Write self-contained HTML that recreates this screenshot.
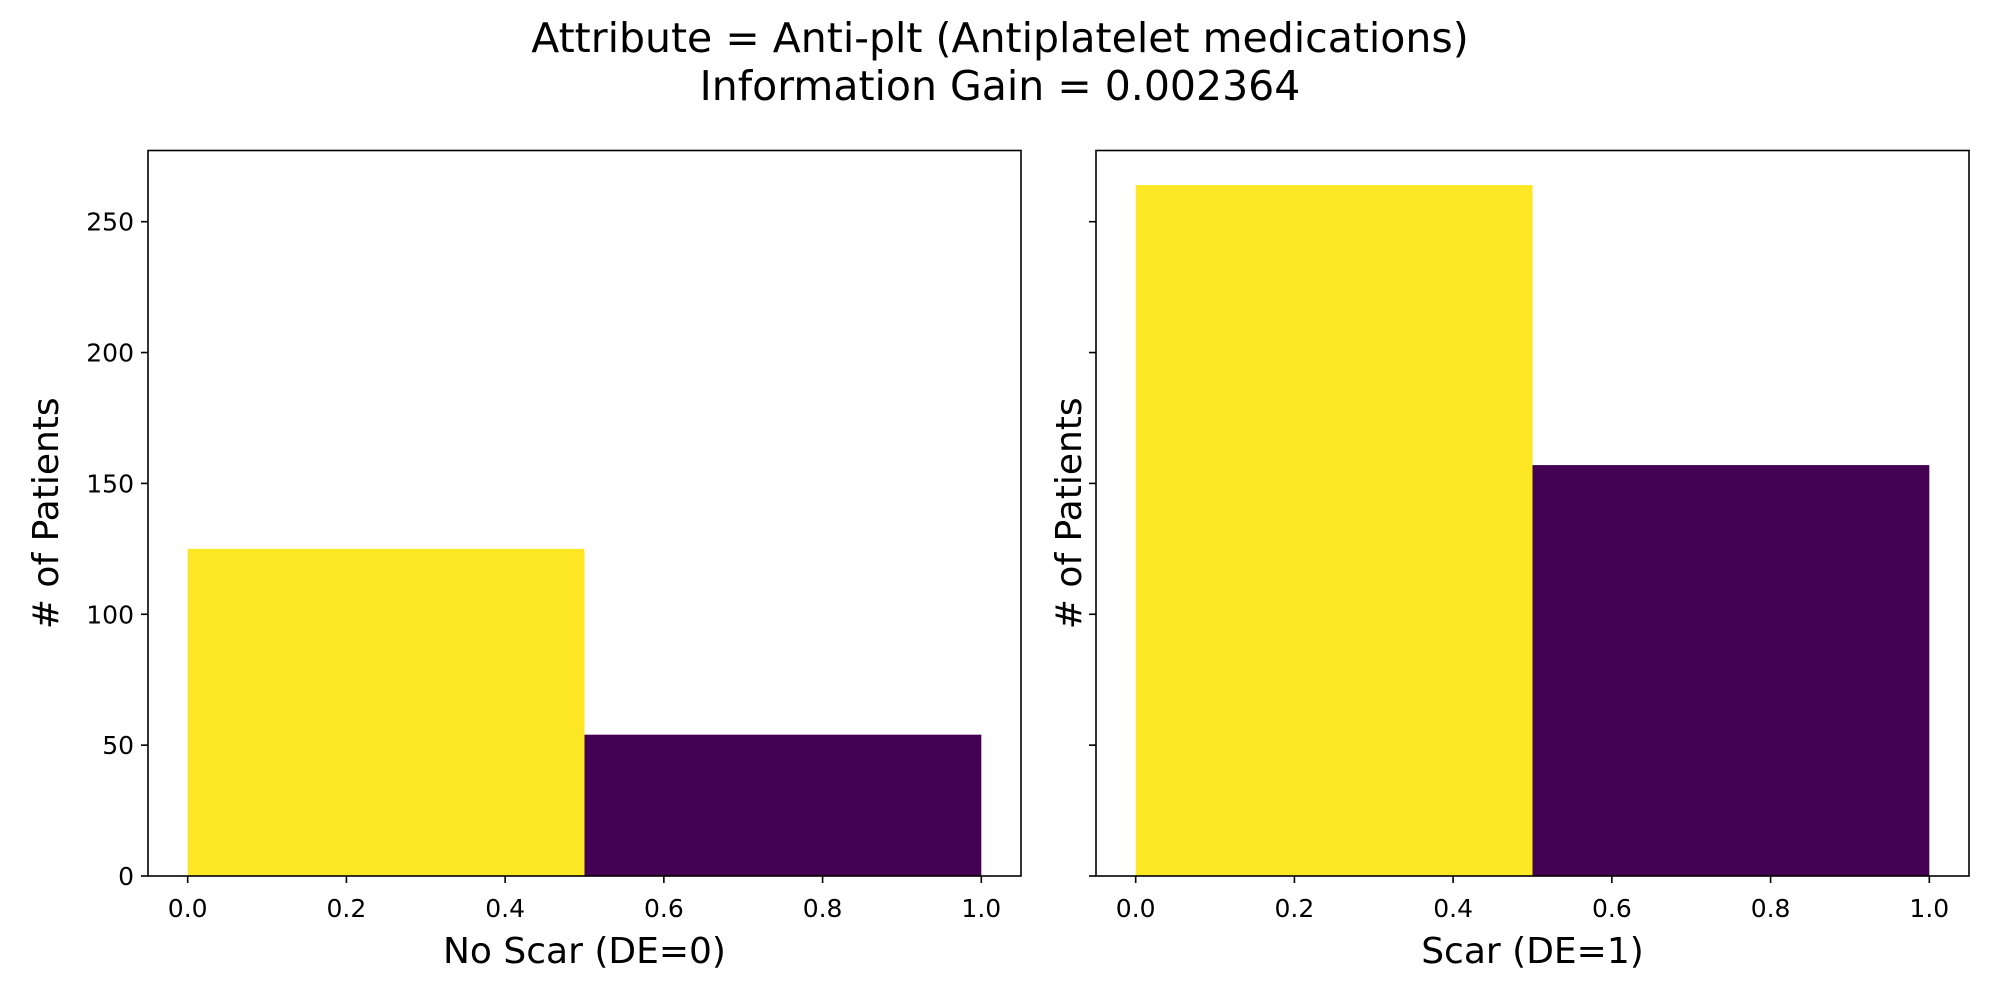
<!DOCTYPE html>
<html><head><meta charset="utf-8"><style>
html,body{margin:0;padding:0;background:#fff;}
svg{display:block;font-family:"DejaVu Sans","Liberation Sans",sans-serif;}
</style></head><body>
<svg id="fig" width="2000" height="1000" viewBox="0 0 2000 1000" xmlns="http://www.w3.org/2000/svg">
<rect width="2000" height="1000" fill="#fff"/>
<text x="1000" y="52" font-size="41" text-anchor="middle">Attribute = Anti-plt (Antiplatelet medications)</text>
<text x="1000" y="100" font-size="41" text-anchor="middle">Information Gain = 0.002364</text>
<g id="panels"></g>
</svg>
<script>
const categories = ["0.0-0.5", "0.5-1.0"];
const binEdges = [0, 0.5, 1.0];
const noScarValues = [125, 54];
const scarValues = [264, 157];
const barColors = ["#fde725", "#440154"];
const xTicks = [0.0, 0.2, 0.4, 0.6, 0.8, 1.0];
const xTickLabels = ["0.0", "0.2", "0.4", "0.6", "0.8", "1.0"];
const yTicks = [0, 50, 100, 150, 200, 250];
const yTickLabels = ["0", "50", "100", "150", "200", "250"];
const panelTitles = ["No Scar (DE=0)", "Scar (DE=1)"];

const NS = "http://www.w3.org/2000/svg";
const root = document.getElementById("panels");
const yMax = Math.max(...noScarValues, ...scarValues) * 1.05;
function mk(tag, attrs, parent) {
  const e = document.createElementNS(NS, tag);
  for (const k in attrs) e.setAttribute(k, attrs[k]);
  parent.appendChild(e);
  return e;
}
const axTop = 150.5, axBottom = 876, W = 873;
const lefts = [148, 1096];
const series = [noScarValues, scarValues];
lefts.forEach((L, p) => {
  const g = mk("g", {}, root);
  
  
  const xs = v => L + (v + 0.05) / 1.1 * W;
  const ys = v => axBottom - v / yMax * (axBottom - axTop);
  series[p].forEach((val, i) => {
    const r = mk("rect", {x: xs(binEdges[i]), y: ys(val), width: xs(binEdges[i+1]) - xs(binEdges[i]), height: ys(0) - ys(val), fill: barColors[i]}, g);
    
    
  });
  const frame = mk("rect", {x: L, y: axTop, width: W, height: axBottom - axTop, fill: "none", stroke: "#000", "stroke-width": 1.6}, g);
  
  
  xTicks.forEach((t, i) => {
    const x = xs(t);
    mk("line", {x1: x, x2: x, y1: axBottom, y2: axBottom + 7, stroke: "#000", "stroke-width": 1.6}, g);
    const tx = mk("text", {x: x, y: axBottom + 41, "font-size": 25, "text-anchor": "middle"}, g);
    tx.textContent = xTickLabels[i];
    
    
  });
  yTicks.forEach((t, i) => {
    const y = ys(t);
    mk("line", {x1: L - 7, x2: L, y1: y, y2: y, stroke: "#000", "stroke-width": 1.6}, g);
    if (p === 0) {
      const ty = mk("text", {x: L - 14, y: y + 9, "font-size": 25, "text-anchor": "end"}, g);
      ty.textContent = yTickLabels[i];
      
      
    }
  });
  const xl = mk("text", {x: L + W / 2, y: 963, "font-size": 36, "text-anchor": "middle"}, g);
  xl.textContent = panelTitles[p];
  
  
  const yx = p === 0 ? 58 : 1081;
  const cy = (axTop + axBottom) / 2;
  const yl = mk("text", {x: yx, y: cy, "font-size": 36, "text-anchor": "middle", transform: `rotate(-90 ${yx} ${cy})`}, g);
  yl.textContent = "# of Patients";
  
  
});
</script>
</body></html>
